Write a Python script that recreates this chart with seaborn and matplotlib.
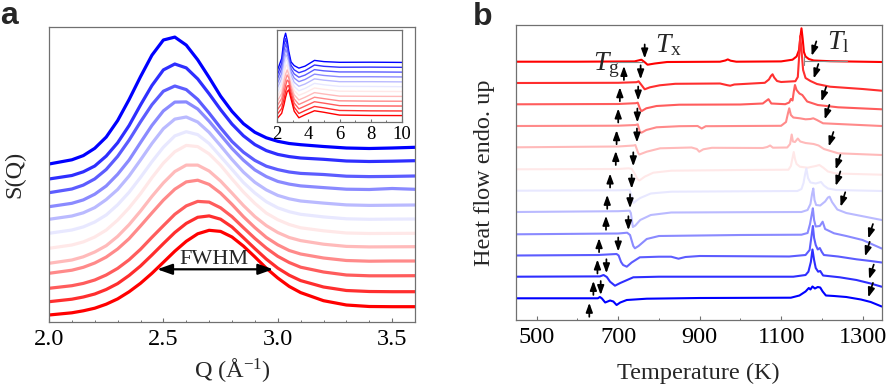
import numpy as np
import pandas as pd
import matplotlib
matplotlib.use("Agg")
import matplotlib.pyplot as plt
import seaborn as sns
from matplotlib.ticker import MultipleLocator

# ---------------- Panel a : S(Q) curves (top = blue ... bottom = red) ----------------
q = [2.0, 2.1, 2.15, 2.2, 2.25, 2.3, 2.35, 2.4, 2.45, 2.5, 2.55, 2.6, 2.65, 2.7, 2.75, 2.8, 2.85, 2.9,
     2.95, 3.0, 3.05, 3.1, 3.2, 3.3, 3.4, 3.5, 3.6]
sq_1 = [158.0, 162.2, 166.4, 173.7, 184.9, 201.4, 222.4, 245.3, 266.8, 282.0, 284.9, 276.9, 262.2, 244.5, 225.9, 210.6, 198.3, 189.7, 184.2, 180.7, 178.5, 177.3, 175.5, 174.0, 173.5, 174.0, 174.7]
sq_2 = [143.0, 146.5, 150.2, 156.0, 165.9, 179.2, 196.4, 217.0, 236.5, 252.1, 258.0, 254.1, 243.1, 228.2, 212.4, 197.9, 186.2, 177.4, 171.4, 167.6, 165.4, 164.0, 162.7, 161.0, 160.5, 160.8, 161.3]
sq_3 = [129.3, 133.0, 136.9, 143.1, 152.5, 165.6, 181.8, 200.1, 217.3, 230.8, 236.0, 232.4, 222.6, 208.9, 194.2, 180.5, 169.8, 161.6, 155.8, 152.4, 150.0, 148.6, 147.5, 145.8, 145.4, 145.6, 146.0]
sq_4 = [115.3, 118.7, 122.1, 127.8, 136.0, 147.7, 161.9, 179.4, 196.6, 211.1, 219.9, 220.1, 213.0, 200.8, 187.1, 173.5, 161.8, 152.1, 145.4, 140.6, 137.9, 136.1, 134.4, 132.8, 132.5, 133.5, 132.7]
sq_5 = [102.7, 106.0, 109.2, 114.4, 122.4, 132.5, 146.0, 162.0, 178.5, 193.3, 202.9, 205.0, 200.0, 189.6, 176.3, 162.5, 149.9, 139.7, 132.1, 126.6, 123.2, 121.0, 118.9, 117.1, 116.6, 116.8, 117.0]
sq_6 = [88.7, 92.0, 95.1, 100.0, 107.0, 117.2, 129.7, 144.6, 160.3, 174.8, 186.1, 190.3, 187.4, 178.5, 165.6, 152.6, 139.5, 129.0, 120.3, 114.2, 110.3, 107.7, 105.1, 103.2, 102.7, 102.9, 103.0]
sq_7 = [73.7, 77.0, 80.1, 85.0, 91.9, 101.9, 114.1, 128.3, 144.3, 158.9, 170.3, 176.6, 175.4, 168.1, 156.8, 143.1, 130.0, 118.6, 108.9, 102.3, 97.5, 94.2, 91.2, 89.0, 88.5, 88.6, 88.7]
sq_8 = [58.7, 62.0, 65.2, 70.0, 76.3, 85.6, 97.3, 110.9, 125.6, 139.1, 150.5, 156.9, 156.9, 151.0, 141.0, 128.9, 116.5, 105.4, 96.4, 89.5, 84.5, 81.4, 77.8, 75.6, 75.1, 75.2, 75.3]
sq_9 = [48.7, 51.8, 54.7, 59.0, 64.9, 73.0, 83.3, 96.0, 109.1, 121.9, 132.8, 140.1, 141.8, 137.6, 128.9, 117.6, 105.3, 94.4, 84.6, 77.2, 71.5, 68.0, 64.0, 61.5, 60.8, 61.0, 61.0]
sq_10 = [33.7, 36.3, 38.6, 42.0, 47.0, 53.6, 62.2, 72.7, 84.7, 96.3, 107.7, 116.1, 120.6, 119.9, 114.2, 105.3, 94.3, 83.6, 73.9, 65.7, 59.5, 54.8, 50.0, 47.0, 46.2, 46.2, 46.3]
sq_11 = [20.3, 22.8, 25.0, 28.0, 32.5, 38.4, 46.5, 56.0, 67.0, 78.4, 89.5, 98.6, 104.7, 106.1, 102.8, 95.0, 84.3, 73.4, 62.9, 53.9, 46.8, 41.4, 35.0, 31.5, 30.5, 30.3, 30.3]
sq_12 = [7.0, 9.2, 11.2, 13.8, 17.8, 23.1, 30.2, 38.7, 48.7, 59.7, 70.8, 80.7, 88.2, 91.7, 90.6, 85.0, 75.9, 65.1, 53.8, 44.0, 35.6, 29.4, 21.3, 17.0, 15.5, 15.3, 15.3]
sq_curves = [sq_1, sq_2, sq_3, sq_4, sq_5, sq_6, sq_7, sq_8, sq_9, sq_10, sq_11, sq_12]
fwhm_range = [2.473, 2.98]
fwhm_level = 52.7

# ---------------- Inset : S(Q) over 2-10 ----------------
iq = [2.0, 2.3, 2.45, 2.55, 2.65, 2.75, 2.9, 3.1, 3.4, 3.8, 4.4, 5.0, 6.0, 8.0, 10.0]
in_1 = [50.7, 63.7, 83.3, 88.8, 82.0, 71.1, 60.2, 56.5, 54.0, 56.0, 61.7, 60.5, 59.8, 59.9, 59.7]
in_2 = [46.3, 58.6, 77.3, 83.4, 77.2, 67.5, 56.8, 52.3, 49.4, 51.5, 57.1, 55.8, 54.9, 55.0, 54.8]
in_3 = [42.1, 53.7, 71.3, 78.2, 73.5, 64.0, 53.4, 48.2, 44.9, 47.1, 52.5, 51.3, 50.2, 50.2, 50.0]
in_4 = [37.8, 48.7, 65.4, 73.0, 69.2, 60.5, 50.1, 44.1, 40.5, 42.7, 48.0, 46.7, 45.4, 45.4, 45.2]
in_5 = [33.4, 43.7, 59.3, 67.6, 65.3, 56.9, 46.6, 39.9, 35.9, 38.2, 43.3, 42.0, 40.5, 40.5, 40.3]
in_6 = [29.1, 38.7, 53.4, 61.7, 62.0, 53.4, 43.3, 35.8, 31.4, 33.8, 38.8, 37.4, 35.8, 35.7, 35.5]
in_7 = [24.9, 33.8, 47.4, 55.9, 57.3, 49.9, 39.9, 31.7, 26.9, 29.4, 34.2, 32.9, 31.0, 30.8, 30.7]
in_8 = [20.5, 28.7, 41.4, 48.0, 52.2, 47.8, 36.5, 27.4, 22.3, 25.0, 29.6, 28.2, 26.1, 25.9, 25.8]
in_9 = [16.2, 23.8, 35.4, 42.2, 47.2, 44.5, 33.1, 23.3, 17.8, 20.6, 25.0, 23.6, 21.4, 21.1, 21.0]
in_10 = [11.9, 18.8, 29.5, 36.5, 42.0, 40.7, 29.8, 19.2, 13.4, 16.2, 20.5, 19.1, 16.6, 16.3, 16.2]
in_11 = [7.6, 13.8, 23.4, 30.6, 36.1, 36.6, 26.3, 15.0, 8.8, 11.7, 15.8, 14.4, 11.8, 11.4, 11.3]
in_12 = [3.5, 9.0, 17.7, 25.0, 30.5, 32.3, 23.2, 11.1, 4.5, 7.5, 11.5, 10.0, 7.2, 6.8, 6.7]
in_curves = [in_1, in_2, in_3, in_4, in_5, in_6, in_7, in_8, in_9, in_10, in_11, in_12]

# ---------------- Panel b : DSC curves (top = red ... bottom = blue) ----------------
dsc1_T = [450, 600, 740, 757, 765, 772, 790, 820, 950, 963, 969, 976, 990, 1100, 1128, 1138, 1144, 1147, 1150, 1153, 1156, 1160, 1168, 1180, 1220, 1347]
dsc1_V = [258.3, 258.3, 258.6, 260.3, 257.8, 255.3, 256.5, 258.0, 258.3, 259.5, 260.6, 259.3, 258.3, 258.6, 260.3, 263.5, 270.0, 282.0, 291.7, 281.0, 268.0, 263.5, 261.0, 259.5, 258.8, 258.0]
dsc2_T = [450, 700, 745, 750, 758, 765, 778, 802, 840, 950, 968, 975, 985, 1060, 1070, 1075, 1079, 1083, 1090, 1100, 1135, 1141, 1144, 1147, 1150, 1154, 1160, 1172, 1188, 1220, 1300, 1347]
dsc2_V = [237.0, 237.2, 237.8, 238.7, 234.5, 230.7, 232.7, 234.7, 236.2, 236.5, 234.8, 234.3, 235.5, 237.2, 240.5, 244.0, 245.7, 242.5, 239.0, 238.0, 238.8, 243.0, 262.0, 284.0, 270.0, 250.0, 242.0, 239.0, 236.0, 233.3, 231.0, 229.3]
dsc3_T = [450, 700, 743, 748, 753, 757, 769, 794, 850, 1000, 1055, 1063, 1069, 1076, 1110, 1120, 1124, 1128, 1131, 1134, 1138, 1145, 1152, 1164, 1190, 1240, 1347]
dsc3_V = [215.7, 216.0, 216.8, 217.3, 211.7, 208.8, 211.7, 214.0, 215.3, 215.5, 216.5, 219.0, 220.8, 216.5, 215.8, 217.5, 221.0, 219.5, 228.0, 235.0, 230.0, 226.5, 225.0, 218.5, 215.0, 212.7, 210.7]
dsc4_T = [450, 700, 743, 748, 753, 757, 769, 794, 850, 895, 905, 915, 1000, 1100, 1112, 1117, 1120, 1124, 1130, 1146, 1160, 1172, 1179, 1188, 1203, 1240, 1347]
dsc4_V = [194.0, 194.3, 195.0, 195.7, 188.5, 187.3, 190.0, 192.7, 193.8, 194.0, 191.5, 193.8, 194.0, 194.2, 198.0, 207.0, 211.7, 205.0, 202.5, 201.7, 200.7, 201.0, 201.7, 200.0, 196.7, 196.0, 194.0]
dsc5_T = [450, 700, 738, 742, 749, 752, 770, 803, 880, 893, 899, 909, 930, 1055, 1066, 1073, 1080, 1115, 1122, 1126, 1129, 1134, 1141, 1147, 1160, 1180, 1192, 1205, 1240, 1347]
dsc5_V = [172.7, 173.5, 174.5, 175.0, 167.0, 165.5, 168.3, 171.7, 172.5, 171.0, 168.3, 170.7, 172.2, 172.0, 173.0, 174.5, 172.3, 172.5, 176.0, 185.5, 178.5, 178.0, 181.5, 178.5, 177.0, 176.0, 174.5, 171.0, 166.7, 165.0]
dsc6_T = [450, 700, 725, 733, 741, 747, 752, 765, 786, 830, 1000, 1118, 1124, 1128, 1131, 1134, 1138, 1146, 1165, 1185, 1194, 1203, 1215, 1235, 1347]
dsc6_V = [150.7, 151.0, 151.7, 151.2, 146.0, 141.0, 139.5, 143.3, 147.3, 149.3, 150.0, 150.3, 154.0, 162.0, 168.0, 161.0, 156.0, 153.3, 152.3, 154.0, 155.0, 152.5, 148.5, 146.5, 145.3]
dsc7_T = [450, 700, 728, 733, 738, 745, 754, 780, 830, 1000, 1140, 1150, 1155, 1159, 1162, 1166, 1172, 1185, 1198, 1205, 1215, 1235, 1347]
dsc7_V = [129.3, 129.7, 130.0, 124.0, 117.0, 119.5, 122.0, 126.5, 128.3, 128.7, 129.0, 131.0, 137.0, 146.0, 151.5, 142.0, 137.5, 136.5, 138.0, 134.5, 131.5, 130.0, 129.0]
dsc8_T = [450, 700, 728, 731, 736, 742, 754, 780, 830, 1000, 1150, 1165, 1172, 1176, 1179, 1182, 1186, 1196, 1208, 1215, 1219, 1225, 1238, 1260, 1347]
dsc8_V = [108.0, 108.8, 109.3, 107.0, 93.0, 94.5, 100.0, 105.0, 107.5, 107.8, 108.0, 110.0, 116.0, 126.0, 131.5, 120.0, 115.0, 114.5, 118.5, 122.5, 123.3, 118.0, 110.5, 107.0, 100.0]
dsc9_T = [450, 700, 722, 729, 737, 741, 750, 770, 800, 1000, 1150, 1165, 1171, 1175, 1178, 1181, 1185, 1195, 1202, 1208, 1230, 1260, 1300, 1347]
dsc9_V = [85.7, 86.5, 87.3, 85.0, 74.0, 71.7, 74.0, 81.0, 84.0, 85.0, 85.3, 87.0, 96.0, 105.0, 111.7, 100.0, 93.5, 94.0, 98.3, 91.0, 86.7, 84.0, 80.0, 71.5]
dsc10_T = [450, 650, 696, 701, 707, 712, 721, 733, 753, 800, 830, 848, 865, 900, 1120, 1160, 1170, 1175, 1178, 1181, 1185, 1190, 1195, 1200, 1205, 1240, 1285, 1320, 1347]
dsc10_V = [64.5, 65.0, 66.0, 64.5, 58.0, 55.0, 53.3, 57.5, 62.7, 63.3, 63.3, 61.3, 63.0, 64.0, 63.5, 65.0, 70.0, 85.0, 94.0, 82.0, 75.0, 70.5, 72.0, 68.0, 65.0, 63.5, 60.7, 59.0, 57.5]
dsc11_T = [450, 655, 664, 672, 680, 692, 705, 737, 800, 1130, 1160, 1167, 1173, 1177, 1181, 1185, 1191, 1196, 1203, 1244, 1285, 1318, 1347]
dsc11_V = [43.3, 43.6, 45.0, 43.0, 38.3, 34.3, 37.0, 42.7, 43.3, 43.3, 45.0, 48.3, 58.0, 70.5, 60.0, 52.0, 48.3, 49.0, 44.5, 42.7, 40.0, 36.7, 33.3]
dsc12_T = [450, 650, 655, 660, 668, 680, 688, 696, 705, 721, 770, 900, 1124, 1145, 1160, 1168, 1172, 1177, 1183, 1190, 1196, 1202, 1210, 1230, 1260, 1296, 1320, 1347]
dsc12_V = [21.7, 21.7, 23.0, 21.5, 17.5, 19.5, 18.5, 15.0, 17.5, 20.0, 21.3, 22.0, 22.3, 24.5, 28.5, 32.0, 30.5, 33.5, 31.5, 33.0, 32.5, 28.5, 24.5, 24.0, 23.0, 20.5, 18.0, 13.5]
dsc_T = [dsc1_T, dsc2_T, dsc3_T, dsc4_T, dsc5_T, dsc6_T, dsc7_T, dsc8_T, dsc9_T, dsc10_T, dsc11_T, dsc12_T]
dsc_V = [dsc1_V, dsc2_V, dsc3_V, dsc4_V, dsc5_V, dsc6_V, dsc7_V, dsc8_V, dsc9_V, dsc10_V, dsc11_V, dsc12_V]

Tg = [714, 704, 700, 696, 694, 680, 673, 670, 653, 649, 639, 629]
Tx = [765, 755, 749, 747, 746, 737, 733, 729, 725, 700, 671, 657]
Tl = [1175, 1180, 1199, 1207, 1217, 1234, 1234, 1246, 1314, 1306, 1316, 1314]

# ---------------- style ----------------
sns.set_style("ticks")
plt.rcParams.update({
    "font.family": ["Liberation Serif", "DejaVu Serif"],
    "mathtext.fontset": "custom",
    "mathtext.rm": "Liberation Serif",
    "mathtext.it": "Liberation Serif:italic",
    "mathtext.bf": "Liberation Serif:bold",
    "lines.solid_joinstyle": "round",
})
FS = 17.5
SPINE = "#707070"

fig = plt.figure(figsize=(8.86, 3.87), dpi=100)
W, H = 886.0, 387.0
axa = fig.add_axes([49 / W, 1 - 322 / H, 366 / W, 295 / H])
axb = fig.add_axes([516 / W, 1 - 320 / H, 365.7 / W, 295 / H])
axi = fig.add_axes([277 / W, 1 - 122.3 / H, 125 / W, 92.3 / H])

cmap = plt.get_cmap("bwr")

def style_axis(ax, fs, major_len=3.0, minor_len=1.8):
    for s in ax.spines.values():
        s.set_color(SPINE)
        s.set_linewidth(0.9)
    ax.tick_params(axis="x", which="both", direction="in", top=False, color=SPINE,
                   labelsize=fs, labelcolor="black")
    ax.tick_params(axis="x", which="major", length=major_len, width=0.8, pad=5)
    ax.tick_params(axis="x", which="minor", length=minor_len, width=0.7)
    ax.set_yticks([])
    ax.set_xlabel("")
    ax.set_ylabel("")

# ---- panel a ----
names_a = [f"a{i}" for i in range(12)]
rows = []
for name, vals in zip(names_a, sq_curves):
    rows += [(name, x, y) for x, y in zip(q, vals)]
dfa = pd.DataFrame(rows, columns=["curve", "Q", "S"])
pal_a = {n: cmap(i / 11) for i, n in enumerate(names_a)}
sns.lineplot(data=dfa, x="Q", y="S", hue="curve", hue_order=names_a, palette=pal_a,
             estimator=None, sort=False, linewidth=2.3, legend=False, ax=axa)
axa.set_xlim(2.0, 3.6)
axa.set_ylim(0, 295)
axa.set_xticks([2.0, 2.5, 3.0, 3.5])
axa.set_xticklabels(["2.0", "2.5", "3.0", "3.5"])
axa.xaxis.set_minor_locator(MultipleLocator(0.1))
style_axis(axa, FS)
axa.annotate("", xy=(fwhm_range[0], fwhm_level), xytext=(fwhm_range[1], fwhm_level),
             arrowprops=dict(arrowstyle="<|-|>,head_length=0.9,head_width=0.32", color="black",
                             lw=1.6, shrinkA=0, shrinkB=0, mutation_scale=10))
axa.text(2.72, 57.5, "FWHM", fontsize=16, ha="center", va="baseline")

# ---- inset ----
names_i = [f"i{i}" for i in range(12)]
rows = []
for name, vals in zip(names_i, in_curves):
    rows += [(name, x, y) for x, y in zip(iq, vals)]
dfi = pd.DataFrame(rows, columns=["curve", "Q", "S"])
pal_i = {n: cmap(i / 11) for i, n in enumerate(names_i)}
sns.lineplot(data=dfi, x="Q", y="S", hue="curve", hue_order=names_i, palette=pal_i,
             estimator=None, sort=False, linewidth=1.0, legend=False, ax=axi)
axi.set_xlim(2, 10)
axi.set_ylim(0, 92)
axi.set_xticks([2, 4, 6, 8, 10])
axi.xaxis.set_minor_locator(MultipleLocator(1))
style_axis(axi, 13.5, major_len=2.5, minor_len=1.5)
axi.tick_params(axis="x", which="major", pad=3)

# ---- panel b ----
names_b = [f"b{i}" for i in range(12)]
rows = []
for name, ts, vs in zip(names_b, dsc_T, dsc_V):
    rows += [(name, t, v) for t, v in zip(ts, vs)]
dfb = pd.DataFrame(rows, columns=["curve", "T", "V"])
pal_b = {n: cmap(1 - i / 11) for i, n in enumerate(names_b)}
sns.lineplot(data=dfb, x="T", y="V", hue="curve", hue_order=names_b, palette=pal_b,
             estimator=None, sort=False, linewidth=1.5, legend=False, ax=axb)
axb.set_xlim(449, 1347)
axb.set_ylim(0, 295)
axb.set_xticks([500, 700, 900, 1100, 1300])
axb.xaxis.set_minor_locator(MultipleLocator(100))
style_axis(axb, FS)

arrow_kw = dict(arrowstyle="-|>,head_length=0.55,head_width=0.2", color="black",
                lw=1.25, shrinkA=0, shrinkB=0, mutation_scale=10)
for ts, vs, tg, tx, tl in zip(dsc_T, dsc_V, Tg, Tx, Tl):
    vg = np.interp(tg, ts, vs)
    axb.annotate("", xy=(tg, vg - 4.5), xytext=(tg, vg - 18.5), arrowprops=arrow_kw)
    vx = np.interp(tx - 4, ts, vs)
    axb.annotate("", xy=(tx, vx + 2.5), xytext=(tx, vx + 16.5), arrowprops=arrow_kw)
    vl = np.interp(tl, ts, vs)
    axb.annotate("", xy=(tl, vl + 4), xytext=(tl + 11.5, vl + 18.5), arrowprops=arrow_kw)

# tangent guide lines on the top curve
axb.plot([680, 762], [257.6, 257.6], color="#8a8a8a", lw=0.8)
axb.plot([1157, 1262], [259.5, 259.5], color="#8a8a8a", lw=0.8)
axb.plot([1157, 1157], [255.5, 264.0], color="#8a8a8a", lw=0.8)

axb.text(638, 250, r"$T_{\mathrm{g}}$", fontsize=20, ha="left", va="baseline")
axb.text(790, 268, r"$T_{\mathrm{x}}$", fontsize=20, ha="left", va="baseline")
axb.text(1212, 270.5, r"$T_{\mathrm{l}}$", fontsize=20, ha="left", va="baseline")

# ---- labels ----
fig.text(232 / W, 1 - 370 / H, r"Q (Å$^{-1}$)", fontsize=FS, ha="center", va="center")
fig.text(15 / W, 1 - 174 / H, "S(Q)", fontsize=FS, rotation=90, ha="center", va="center")
fig.text(698 / W, 1 - 373 / H, "Temperature (K)", fontsize=FS, ha="center", va="center")
fig.text(485 / W, 1 - 173 / H, "Heat flow endo. up", fontsize=FS, rotation=90,
         ha="center", va="center")
fig.text(0.0, 1 - 24 / H, "a", fontsize=23, fontweight="bold", family="Liberation Sans",
         ha="left", va="baseline")
fig.text(473 / W, 1 - 25 / H, "b", fontsize=23, fontweight="bold", family="Liberation Sans",
         ha="left", va="baseline")

fig.savefig("out.png", dpi=100)
